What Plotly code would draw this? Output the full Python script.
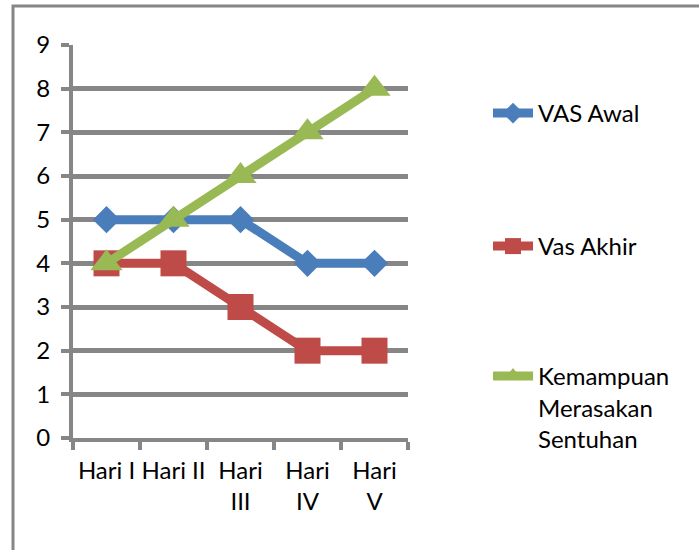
import plotly.graph_objects as go

categories = ["Hari I", "Hari II", "Hari III", "Hari IV", "Hari V"]
tick_labels = ["Hari I", "Hari II", "Hari<br>III", "Hari<br>IV", "Hari<br>V"]
vas_awal = [5, 5, 5, 4, 4]
vas_akhir = [4, 4, 3, 2, 2]
kemampuan = [4, 5, 6, 7, 8]

FONT = "Lato, Liberation Sans, sans-serif"
GRID = "#868686"
FS = 24

fig = go.Figure()
fig.add_trace(go.Scatter(
    x=categories, y=vas_awal, name="VAS Awal", mode="lines+markers",
    line=dict(color="#4A7EBB", width=9),
    marker=dict(symbol="diamond", size=21, color="#4A7EBB"),
    legend="legend"))
fig.add_trace(go.Scatter(
    x=categories, y=vas_akhir, name="Vas Akhir", mode="lines+markers",
    line=dict(color="#BE4B48", width=9),
    marker=dict(symbol="square", size=26, color="#BE4B48"),
    legend="legend2"))
fig.add_trace(go.Scatter(
    x=categories, y=kemampuan, name="Kemampuan<br>Merasakan<br>Sentuhan",
    mode="lines+markers",
    line=dict(color="#98B954", width=9),
    marker=dict(symbol="triangle-up", size=28, color="#98B954"),
    legend="legend3"))

L, R, T, B = 73, 291, 45, 112
W, H = 699, 550
pw, ph = W - L - R, H - T - B

def px(x):
    return (x - L) / pw

def py(y):
    return (H - B - y) / ph

legend_common = dict(font=dict(family=FONT, size=FS, color="#000000"),
                     bgcolor="rgba(0,0,0,0)", xanchor="left", yanchor="top",
                     valign="top", itemwidth=40, tracegroupgap=0)

fig.update_layout(
    width=W, height=H,
    margin=dict(l=L, r=R, t=T, b=B, autoexpand=False),
    paper_bgcolor="white", plot_bgcolor="white",
    font=dict(family=FONT, size=FS, color="#000000"),
    showlegend=True,
    legend=dict(x=px(488), y=py(91), **legend_common),
    legend2=dict(x=px(488), y=py(224), **legend_common),
    legend3=dict(x=px(488), y=py(354), **legend_common),
    xaxis=dict(
        type="category", range=[-0.5, 4.5], automargin=False,
        tickmode="array", tickvals=categories, ticktext=tick_labels,
        tickangle=0,
        tickson="boundaries", ticks="outside", ticklen=8, tickwidth=4,
        tickcolor=GRID, showline=True, linecolor=GRID, linewidth=4,
        showgrid=False, zeroline=False, ticklabelstandoff=8,
        tickfont=dict(family=FONT, size=FS, color="#000000"),
    ),
    yaxis=dict(
        range=[0, 9], tickmode="array", tickvals=list(range(10)),
        automargin=False,
        ticks="outside", ticklen=8, tickwidth=4, tickcolor=GRID,
        showline=True, linecolor=GRID, linewidth=4,
        showgrid=True, gridcolor=GRID, gridwidth=5, zeroline=False,
        ticklabelstandoff=6,
        tickfont=dict(family=FONT, size=FS, color="#000000"),
    ),
    shapes=[dict(type="rect", xref="paper", yref="paper",
                 x0=px(13), x1=px(720), y0=py(570), y1=py(6),
                 line=dict(color=GRID, width=3), layer="below")],
)

fig.write_html("out.html", config={"displayModeBar": False},
               post_script="document.body.style.margin='0';")
